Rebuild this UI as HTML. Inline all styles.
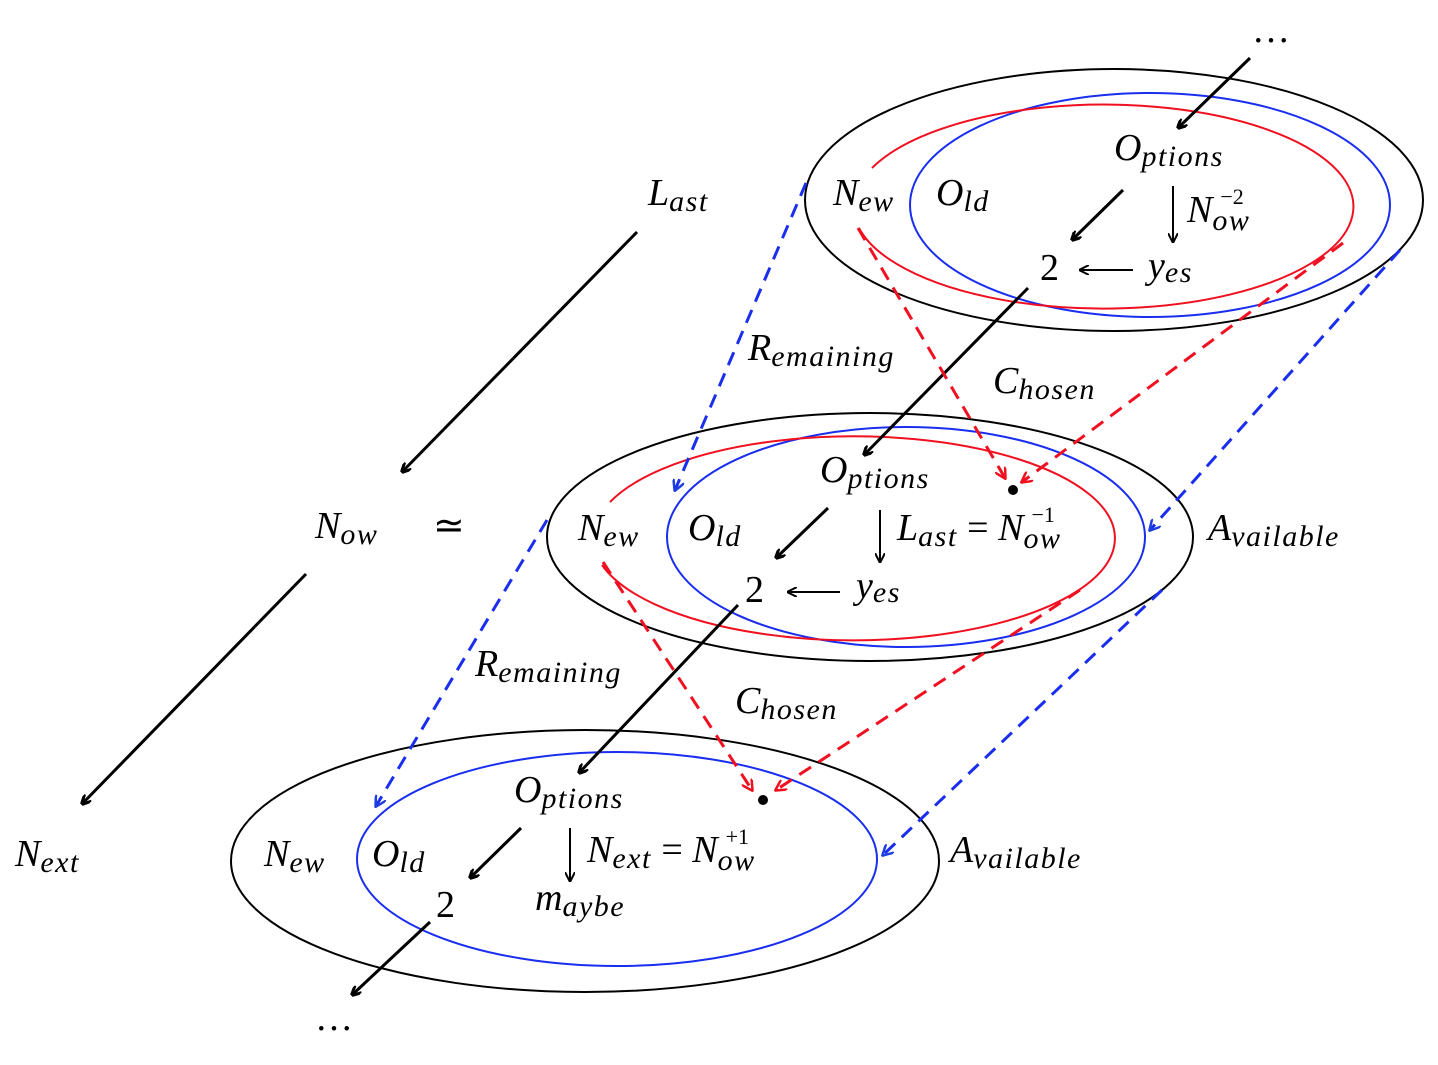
<!DOCTYPE html>
<html><head><meta charset="utf-8"><style>body{margin:0;background:#fff}text{font-family:"Liberation Serif",serif;font-style:italic}.n{font-style:normal}.s{font-size:30px;letter-spacing:1.5px}.p{font-size:22px;font-style:normal}</style></head><body>
<svg width="1438" height="1060" viewBox="0 0 1438 1060" xmlns="http://www.w3.org/2000/svg">
<defs>
<marker id="ak" markerWidth="10" markerHeight="10" refX="9" refY="5" orient="auto" markerUnits="userSpaceOnUse"><path d="M0,0 L10,5 L0,10" fill="none" stroke="#000" stroke-width="3"/></marker>
<marker id="ak2" markerWidth="10" markerHeight="10" refX="9" refY="5" orient="auto" markerUnits="userSpaceOnUse"><path d="M0,0 L10,5 L0,10" fill="none" stroke="#000" stroke-width="2"/></marker>
<marker id="ab" markerWidth="12" markerHeight="12" refX="10" refY="6" orient="auto" markerUnits="userSpaceOnUse"><path d="M0,0 L11,6 L0,12" fill="none" stroke="#1f3fe0" stroke-width="2.5"/></marker>
<marker id="ar" markerWidth="12" markerHeight="12" refX="10" refY="6" orient="auto" markerUnits="userSpaceOnUse"><path d="M0,0 L11,6 L0,12" fill="none" stroke="#f01020" stroke-width="2.5"/></marker>
</defs>
<g fill="none" stroke-width="2">
<ellipse cx="1114" cy="200" rx="309" ry="131" stroke="#000"/>
<ellipse cx="1150" cy="205" rx="240" ry="112" stroke="#1a2ef0"/>
<path d="M872,168 A250,102 0 1 1 859,228" stroke="#f01020"/>
<ellipse cx="870" cy="537" rx="323" ry="124" stroke="#000"/>
<ellipse cx="906" cy="537" rx="239" ry="110" stroke="#1a2ef0"/>
<path d="M610,502 A261,102 0 1 1 602,565" stroke="#f01020"/>
<ellipse cx="585" cy="861" rx="354" ry="131" stroke="#000"/>
<ellipse cx="617" cy="859" rx="260" ry="107" stroke="#1a2ef0"/>
</g>
<g stroke="#000" stroke-width="3" fill="none" marker-end="url(#ak)">
<line x1="1250" y1="58" x2="1178" y2="128"/>
<line x1="1123" y1="190" x2="1072" y2="240"/>
<line x1="1028" y1="288" x2="864" y2="455"/>
<line x1="828" y1="508" x2="776" y2="558"/>
<line x1="738" y1="605" x2="579" y2="773"/>
<line x1="521" y1="828" x2="470" y2="878"/>
<line x1="430" y1="922" x2="352" y2="995"/>
<line x1="637" y1="232" x2="402" y2="472"/>
<line x1="306" y1="574" x2="82" y2="804"/>
</g>
<g stroke="#000" stroke-width="2" fill="none" marker-end="url(#ak2)">
<line x1="1173" y1="186" x2="1173" y2="242"/>
<line x1="1133" y1="270" x2="1080" y2="270"/>
<line x1="880" y1="510" x2="880" y2="562"/>
<line x1="840" y1="592" x2="788" y2="592"/>
<line x1="570" y1="828" x2="570" y2="881"/>
</g>
<g stroke="#1a2ef0" stroke-width="3" fill="none" stroke-dasharray="14,9" marker-end="url(#ab)">
<line x1="806" y1="183" x2="675" y2="490"/>
<line x1="1400" y1="250" x2="1150" y2="530"/>
<line x1="547" y1="520" x2="376" y2="806"/>
<line x1="1162" y1="590" x2="883" y2="855"/>
</g>
<g stroke="#f01020" stroke-width="3" fill="none" stroke-dasharray="14,9" marker-end="url(#ar)">
<line x1="858" y1="228" x2="1005" y2="478"/>
<line x1="1343" y1="243" x2="1022" y2="482"/>
<line x1="603" y1="562" x2="752" y2="790"/>
<line x1="1080" y1="590" x2="776" y2="790"/>
</g>
<circle cx="1013" cy="490" r="5"/><circle cx="763" cy="800" r="5"/>
<g font-size="38" fill="#000">
<text x="1252" y="42" class="n">…</text>
<text x="315" y="1030" class="n">…</text>
<text x="1114" y="160">O<tspan class="s" dy="6">ptions</tspan></text>
<text x="833" y="205">N<tspan class="s" dy="6">ew</tspan></text>
<text x="936" y="205">O<tspan class="s" dy="6">ld</tspan></text>
<text x="1187" y="222">N<tspan class="s" dy="8">ow</tspan><tspan class="p" dx="-30" dy="-26">−2</tspan></text>
<text x="1040" y="280" class="n">2</text>
<text x="1148" y="278">y<tspan class="s" dy="4">es</tspan></text>
<text x="820" y="482">O<tspan class="s" dy="6">ptions</tspan></text>
<text x="578" y="540">N<tspan class="s" dy="6">ew</tspan></text>
<text x="688" y="540">O<tspan class="s" dy="6">ld</tspan></text>
<text x="897" y="540">L<tspan class="s" dy="6">ast</tspan><tspan class="n" dy="-6"> = </tspan>N<tspan class="s" dy="8">ow</tspan><tspan class="p" dx="-30" dy="-26">−1</tspan></text>
<text x="745" y="602" class="n">2</text>
<text x="856" y="598">y<tspan class="s" dy="4">es</tspan></text>
<text x="514" y="802">O<tspan class="s" dy="6">ptions</tspan></text>
<text x="264" y="866">N<tspan class="s" dy="6">ew</tspan></text>
<text x="372" y="866">O<tspan class="s" dy="6">ld</tspan></text>
<text x="587" y="862">N<tspan class="s" dy="6">ext</tspan><tspan class="n" dy="-6"> = </tspan>N<tspan class="s" dy="8">ow</tspan><tspan class="p" dx="-30" dy="-26">+1</tspan></text>
<text x="436" y="917" class="n">2</text>
<text x="535" y="910">m<tspan class="s" dy="6">aybe</tspan></text>
<text x="648" y="205">L<tspan class="s" dy="6">ast</tspan></text>
<text x="315" y="538">N<tspan class="s" dy="6">ow</tspan></text>
<text x="433" y="538" class="n">≃</text>
<text x="15" y="866">N<tspan class="s" dy="6">ext</tspan></text>
<text x="748" y="360">R<tspan class="s" dy="6">emaining</tspan></text>
<text x="475" y="676">R<tspan class="s" dy="6">emaining</tspan></text>
<text x="993" y="393">C<tspan class="s" dy="6">hosen</tspan></text>
<text x="735" y="713">C<tspan class="s" dy="6">hosen</tspan></text>
<text x="1208" y="540">A<tspan class="s" dy="6">vailable</tspan></text>
<text x="950" y="862">A<tspan class="s" dy="6">vailable</tspan></text>
</g>
</svg>
</body></html>
